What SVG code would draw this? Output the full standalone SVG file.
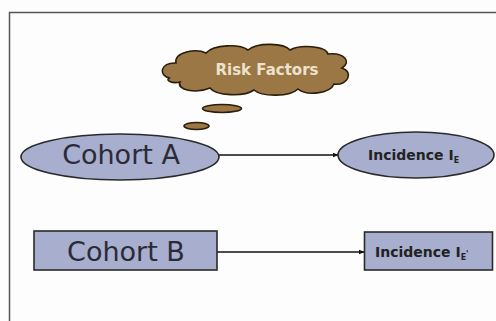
<svg xmlns="http://www.w3.org/2000/svg" width="496" height="321" viewBox="0 0 496 321">
<defs>
<marker id="ah" viewBox="0 0 10 10" refX="9" refY="5" markerWidth="6" markerHeight="6" orient="auto" markerUnits="userSpaceOnUse">
<path d="M0,1 L10,5 L0,9 Z" fill="#111"/>
</marker>
</defs>
<style>
.node{fill:#a8aecd;stroke:#2a2a2a;stroke-width:1.6}
.big{font-family:"DejaVu Sans",Verdana,sans-serif;font-size:27px;fill:#2b2b38;text-anchor:middle}
.small{font-family:"DejaVu Sans",Verdana,sans-serif;font-size:14px;font-weight:bold;fill:#222}
.sub{font-size:8px}
.conn{stroke:#111;stroke-width:1.6;fill:none;marker-end:url(#ah)}
.bubble{fill:#9a7745;stroke:#2a1e0c;stroke-width:1.6}
</style>
<rect width="496" height="321" fill="#fdfdfd"/>
<path d="M9.5,321 L9.5,12.5 L496,12.5" fill="none" stroke="#555" stroke-width="1.5"/>
<g id="risk-factors">
<path class="bubble" d="M170,78 C158,76 160,62 176,63 C174,52 196,48 206,53 C214,44 240,44 248,50 C258,42 284,43 290,50 C300,44 326,46 328,54 C344,52 352,62 342,68 C354,72 348,86 334,84 C330,94 306,96 298,89 C290,97 262,97 254,90 C244,97 216,96 210,88 C196,94 176,90 180,82 C172,84 164,80 170,78 Z"/>
<text x="267" y="75" font-family="'DejaVu Sans',Verdana,sans-serif" font-size="15" font-weight="bold" fill="#ede2cc" text-anchor="middle">Risk Factors</text>
<ellipse class="bubble" cx="222" cy="108.5" rx="19.5" ry="4"/>
<ellipse class="bubble" cx="196.5" cy="126" rx="12.5" ry="3.5"/>
</g>
<g id="connectors">
<line class="conn" x1="219" y1="155" x2="338" y2="155"/>
<line class="conn" x1="217" y1="252" x2="364" y2="252"/>
</g>
<g id="cohort-a">
<ellipse class="node" cx="120" cy="157" rx="99" ry="23"/>
<text class="big" x="121" y="164">Cohort A</text>
</g>
<g id="incidence-e">
<ellipse class="node" cx="416" cy="155" rx="78" ry="23"/>
<text class="small" x="368" y="160">Incidence I<tspan class="sub" dy="3">E</tspan></text>
</g>
<g id="cohort-b">
<rect class="node" x="34" y="231" width="183" height="39"/>
<text class="big" x="126" y="261">Cohort B</text>
</g>
<g id="incidence-e-prime">
<rect class="node" x="364.5" y="232" width="128" height="38"/>
<text class="small" x="375" y="257">Incidence I<tspan class="sub" dy="3">E</tspan><tspan class="sub" dy="-3">'</tspan></text>
</g>
</svg>
